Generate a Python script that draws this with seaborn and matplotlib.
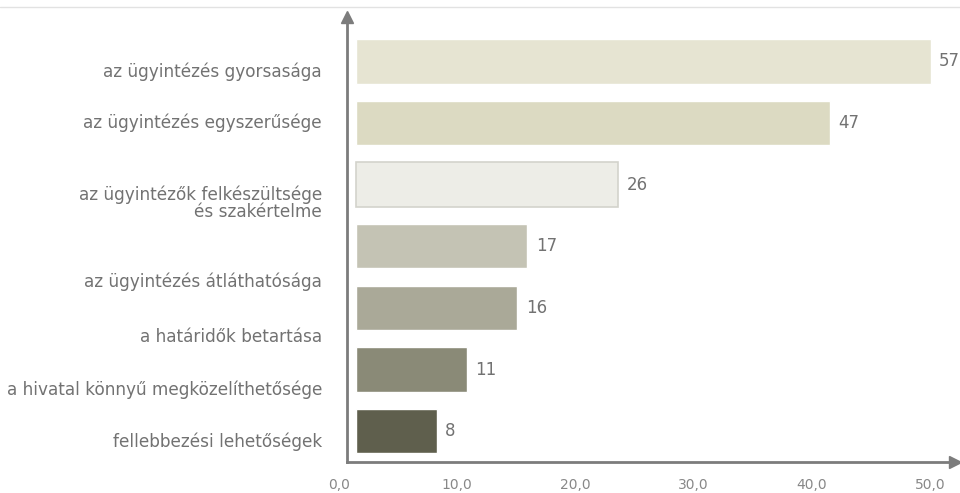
import numpy as np
import matplotlib
matplotlib.use("Agg")
import matplotlib.pyplot as plt
from matplotlib.lines import Line2D
import seaborn as sns

categories = [
    "az ügyintézés gyorsasága",
    "az ügyintézés egyszerűsége",
    "az ügyintézők felkészültsége\nés szakértelme",
    "az ügyintézés átláthatósága",
    "a határidők betartása",
    "a hivatal könnyű megközelíthetősége",
    "fellebbezési lehetőségek",
]
values = [57, 47, 26, 17, 16, 11, 8]
tick_labels = ["0,0", "10,0", "20,0", "30,0", "40,0", "50,0"]
bar_colors = ["#e6e4d2", "#dcdac2", "#edede7", "#c4c3b4", "#aaa998", "#8a8a77", "#5f5f4d"]

# layout: the category labels sit slightly off their bars in the original
label_shift = [0.14, -0.03, 0.28, 0.55, 0.44, 0.29, 0.14]

sns.set_theme(style="white")
plt.rcParams["font.family"] = ["DejaVu Sans"]

fig = plt.figure(figsize=(9.6, 4.93), dpi=100)
ax = fig.add_axes([347 / 960, 1 - 462 / 493, 608 / 960, 445 / 493])

sns.barplot(x=values, y=categories, hue=categories, palette=bar_colors,
            legend=False, orient="h", width=0.72, ax=ax, saturation=1)

ax.patches[2].set_edgecolor("#d3d3cc")
ax.patches[2].set_linewidth(1.2)

ax.set_xlim(-0.9, 59.4)
ax.set_ylim(6.50, -0.72)

text_col = "#727272"
for c in ax.containers:
    ax.bar_label(c, fmt="%d", padding=6, color=text_col, fontsize=12)

ax.set_yticks(np.arange(len(categories)) + np.array(label_shift), labels=categories)
ax.tick_params(axis="y", length=0, pad=18, labelsize=12.2, labelcolor=text_col)
for lbl in ax.get_yticklabels():
    lbl.set_linespacing(0.95)

ax.set_xticks([])
tick_pos = np.linspace(-1.69, 56.9, len(tick_labels))
for p, t in zip(tick_pos, tick_labels):
    ax.text(p, -0.052, t, transform=ax.get_xaxis_transform(), ha="center", va="center",
            fontsize=10, color="#888888", clip_on=False)

ax.set_xlabel("")
ax.set_ylabel("")
for s in ["top", "right"]:
    ax.spines[s].set_visible(False)
axis_col = "#7c7c7c"
for s in ["left", "bottom"]:
    ax.spines[s].set_color(axis_col)
    ax.spines[s].set_linewidth(2)

ax.plot([0], [1], marker="^", markersize=9, color=axis_col, transform=ax.transAxes, clip_on=False)
ax.plot([1], [0], marker=">", markersize=9, color=axis_col, transform=ax.transAxes, clip_on=False)

fig.add_artist(Line2D([0, 1], [1 - 7 / 493, 1 - 7 / 493], transform=fig.transFigure,
                      color="#e2e2e2", linewidth=1))

fig.savefig("out.png", dpi=100)
